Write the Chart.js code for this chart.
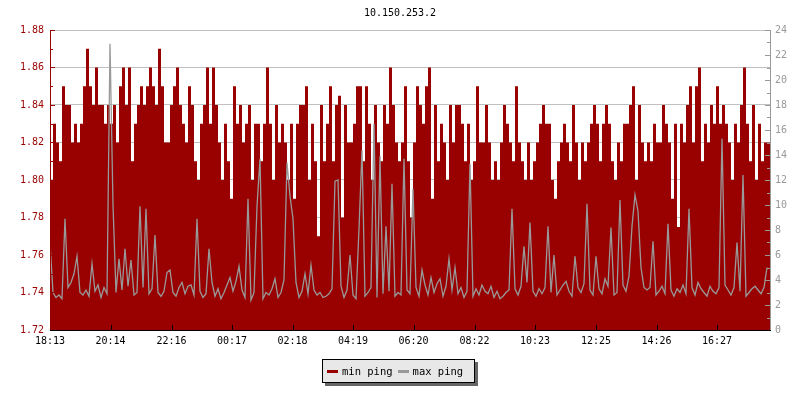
<!DOCTYPE html>
<html>
<head>
<meta charset="utf-8">
<script src="https://cdn.jsdelivr.net/npm/chart.js@4.4.0/dist/chart.umd.min.js"></script>
<style>
  body { margin: 0; background: #fff; }
  #wrap { position: relative; width: 800px; height: 400px; }
  #legend {
    position: absolute; left: 322px; top: 359px; width: 153px; height: 24px;
    background: #e8e8e8; border: 1px solid #000; box-shadow: 3px 3px 0 #666;
    font: 10.5px "DejaVu Sans Mono", monospace; color: #000;
    display: flex; align-items: center; box-sizing: border-box; padding-left: 4px;
  }
  #legend .sw { display: inline-block; width: 11px; height: 3px; margin-right: 4px; }
  #legend .it { display: flex; align-items: center; margin-right: 5px; white-space: nowrap; }
</style>
</head>
<body>
<div id="wrap">
  <canvas id="pingChart"></canvas>
  <div id="legend"></div>
</div>
<script>
// one sample every 6 minutes over 24h, starting 18:13
var STEP_MIN = 6;
var DAY_MIN = 1440;

var xTickLabels = ['18:13','20:14','22:16','00:17','02:18','04:19','06:20','08:22','10:23','12:25','14:26','16:27'];
var xTickMinutes = [0,121,243,364,485,606,727,849,970,1092,1213,1334];

// min ping (left axis)
var minPing = [
  1.82,1.80,1.83,1.82,1.81,1.85,1.84,1.84,1.82,1.83,1.82,1.83,1.85,1.87,1.85,1.84,1.86,1.84,1.84,1.83,
  1.84,1.83,1.84,1.82,1.85,1.86,1.84,1.86,1.81,1.83,1.84,1.85,1.84,1.85,1.86,1.85,1.84,1.87,1.85,1.82,
  1.82,1.84,1.85,1.86,1.84,1.83,1.82,1.85,1.84,1.81,1.80,1.83,1.84,1.86,1.83,1.86,1.84,1.82,1.80,1.83,
  1.81,1.79,1.85,1.83,1.84,1.82,1.83,1.84,1.80,1.83,1.83,1.81,1.83,1.86,1.83,1.80,1.84,1.82,1.83,1.82,
  1.80,1.83,1.79,1.83,1.84,1.84,1.85,1.80,1.83,1.81,1.77,1.84,1.81,1.83,1.85,1.81,1.84,1.845,1.78,1.84,
  1.82,1.82,1.83,1.85,1.85,1.81,1.85,1.83,1.80,1.84,1.82,1.81,1.84,1.83,1.86,1.84,1.82,1.81,1.82,1.85,
  1.81,1.78,1.82,1.85,1.84,1.83,1.85,1.86,1.79,1.84,1.81,1.83,1.82,1.80,1.84,1.82,1.84,1.84,1.83,1.81,
  1.83,1.80,1.81,1.85,1.82,1.82,1.84,1.82,1.80,1.81,1.80,1.82,1.84,1.83,1.82,1.81,1.85,1.82,1.81,1.80,
  1.82,1.80,1.81,1.82,1.83,1.84,1.83,1.83,1.80,1.79,1.81,1.82,1.83,1.82,1.81,1.84,1.82,1.80,1.82,1.81,
  1.82,1.83,1.84,1.83,1.81,1.83,1.84,1.83,1.81,1.80,1.82,1.81,1.83,1.83,1.84,1.85,1.80,1.84,1.82,1.81,
  1.82,1.81,1.83,1.82,1.82,1.84,1.83,1.82,1.79,1.83,1.775,1.83,1.82,1.84,1.85,1.82,1.85,1.86,1.81,1.83,
  1.82,1.84,1.83,1.85,1.83,1.84,1.83,1.82,1.80,1.83,1.82,1.84,1.86,1.83,1.81,1.84,1.80,1.83,1.81,1.82
];

// max ping (right axis)
var maxPing = [
  7.0,3.0,2.6,2.8,2.5,8.9,3.4,3.8,4.5,5.9,3.0,2.8,3.2,2.7,5.3,3.1,3.6,2.6,3.4,2.9,
  22.9,10.0,3.0,5.7,3.2,6.5,3.5,5.6,2.8,3.0,9.9,3.4,9.7,2.9,3.3,7.6,3.0,2.7,3.1,4.6,
  4.8,3.0,2.7,3.4,3.8,2.9,3.5,3.6,2.8,8.9,3.1,2.6,2.9,6.5,3.8,2.7,3.3,2.5,3.0,3.6,
  4.2,3.1,3.9,5.1,3.2,2.6,10.5,2.4,3.0,9.9,13.7,2.5,3.0,2.8,3.3,4.1,2.6,3.0,4.0,13.4,
  10.7,8.9,3.8,2.6,3.1,4.5,2.9,5.2,3.2,2.8,3.0,2.6,2.7,2.9,3.3,11.9,12.0,3.5,2.6,3.2,
  6.0,2.8,2.5,8.1,14.4,2.7,3.0,3.4,16.5,2.6,13.9,2.9,8.3,3.1,11.7,2.7,3.0,2.8,13.7,3.2,
  2.9,11.3,3.4,2.7,4.8,3.6,2.8,4.2,3.0,3.7,4.1,2.7,3.5,5.7,3.2,5.0,2.9,3.4,2.6,3.1,
  13.3,2.7,3.3,2.8,3.6,3.1,2.9,3.5,2.6,3.1,2.5,2.7,3.0,3.2,9.7,3.3,2.8,3.5,6.7,3.8,
  8.6,3.1,2.7,3.3,2.9,3.4,8.3,3.0,6.0,2.8,3.2,3.6,3.9,3.1,2.7,5.9,3.4,3.0,3.7,10.1,
  3.2,2.8,5.9,3.3,2.9,4.1,3.5,8.2,2.8,3.0,10.4,3.6,3.1,4.3,8.3,10.8,9.5,5.0,3.4,3.2,
  3.4,7.1,2.8,3.1,3.5,2.9,8.5,3.2,2.7,3.3,3.0,3.6,2.9,9.7,3.4,2.8,3.8,3.3,3.0,2.7,
  3.5,3.1,2.9,3.4,15.3,3.6,3.2,2.8,3.4,7.0,3.1,12.4,2.7,3.0,3.3,3.5,3.2,2.9,3.4,5.0
];

var FONT = '"DejaVu Sans Mono", monospace';
var RED = '#990000';
var GREY = '#999999';

function toPoints(arr, closeEnd) {
  var pts = arr.map(function (v, i) { return { x: i * STEP_MIN, y: v }; });
  if (closeEnd) pts.push({ x: DAY_MIN, y: arr[arr.length - 1] }); // close last step at the right edge
  return pts;
}

function isMajor(v) { return Math.round(v * 100) % 2 === 0; }

// tick marks pointing into the plot, plus axis lines on top of the fill
var innerTicks = {
  id: 'innerTicks',
  afterDatasetsDraw: function (chart) {
    var c = chart.ctx, a = chart.chartArea, s = chart.scales;
    function ln(x1, y1, x2, y2, col) {
      c.strokeStyle = col; c.beginPath(); c.moveTo(x1, y1); c.lineTo(x2, y2); c.stroke();
    }
    c.save();
    c.lineWidth = 1;
    s.y.ticks.forEach(function (t) {
      var y = Math.round(s.y.getPixelForValue(t.value)) + 0.5;
      ln(a.left, y, a.left + (isMajor(t.value) ? 5 : 3), y, RED);
    });
    s.y2.ticks.forEach(function (t) {
      var y = Math.round(s.y2.getPixelForValue(t.value)) + 0.5;
      ln(a.right, y, a.right - (t.value % 2 === 0 ? 5 : 3), y, GREY);
    });
    s.x.ticks.forEach(function (t) {
      var x = Math.round(s.x.getPixelForValue(t.value)) + 0.5;
      ln(x, a.bottom, x, a.bottom - 5, '#000');
    });
    ln(a.left + 0.5, a.top, a.left + 0.5, a.bottom, RED);
    ln(a.right + 0.5, a.top, a.right + 0.5, a.bottom, GREY);
    ln(a.left, a.bottom + 0.5, a.right + 1, a.bottom + 0.5, '#000');
    c.restore();
  }
};

var pingChart = new Chart(document.getElementById('pingChart').getContext('2d'), {
  type: 'line',
  data: {
    datasets: [{
      label: 'max ping',
      data: toPoints(maxPing, false),
      yAxisID: 'y2',
      borderColor: GREY,
      borderWidth: 1.3,
      tension: 0,
      pointRadius: 0,
      fill: false,
      order: 0
    }, {
      label: 'min ping',
      data: toPoints(minPing, true),
      yAxisID: 'y',
      borderColor: RED,
      backgroundColor: RED,
      borderWidth: 0,
      stepped: 'after',
      pointRadius: 0,
      fill: 'start',
      order: 1
    }]
  },
  options: {
    responsive: true,
    maintainAspectRatio: false,
    animation: false,
    layout: { padding: { top: 0, right: 0, bottom: 50, left: 0 } },
    plugins: {
      legend: { display: false },
      tooltip: { enabled: false },
      title: {
        display: true,
        text: '10.150.253.2',
        color: '#000',
        font: { family: FONT, size: 10, weight: 'normal', lineHeight: 1.2 },
        padding: { top: 7, bottom: 11 }
      }
    },
    scales: {
      x: {
        type: 'linear',
        min: 0,
        max: DAY_MIN,
        afterBuildTicks: function (sc) {
          sc.ticks = xTickMinutes.map(function (m) { return { value: m }; });
        },
        afterFit: function (sc) { sc.height = 20; },
        ticks: {
          autoSkip: false, maxRotation: 0, padding: 5, color: '#000',
          font: { family: FONT, size: 10 },
          callback: function (v, i) { return xTickLabels[i]; }
        },
        grid: { display: false, drawTicks: false },
        border: { display: false }
      },
      y: {
        position: 'left',
        min: 1.72,
        max: 1.88,
        afterBuildTicks: function (sc) {
          var t = [];
          for (var k = 172; k <= 188; k++) t.push({ value: k / 100 });
          sc.ticks = t;
        },
        afterFit: function (sc) { sc.width = 50; },
        ticks: {
          autoSkip: false, padding: 6, color: RED,
          font: { family: FONT, size: 10 },
          callback: function (v) { return isMajor(v) ? v.toFixed(2) : ''; }
        },
        grid: {
          drawTicks: false,
          color: function (ctx) {
            return ctx.tick && isMajor(ctx.tick.value) ? '#c0c0c0' : 'rgba(0,0,0,0)';
          }
        },
        border: { display: false }
      },
      y2: {
        position: 'right',
        min: 0,
        max: 24,
        afterBuildTicks: function (sc) {
          var t = [];
          for (var k = 0; k <= 24; k++) t.push({ value: k });
          sc.ticks = t;
        },
        afterFit: function (sc) { sc.width = 30; },
        ticks: {
          autoSkip: false, padding: 5, color: GREY,
          font: { family: FONT, size: 10 },
          callback: function (v) { return v % 2 === 0 ? String(v) : ''; }
        },
        grid: { display: false, drawTicks: false },
        border: { display: false }
      }
    }
  },
  plugins: [innerTicks]
});

// legend box below the plot, min first then max
var legendEl = document.getElementById('legend');
[pingChart.data.datasets[1], pingChart.data.datasets[0]].forEach(function (ds) {
  var it = document.createElement('span');
  it.className = 'it';
  var sw = document.createElement('span');
  sw.className = 'sw';
  sw.style.background = ds.borderColor;
  it.appendChild(sw);
  it.appendChild(document.createTextNode(ds.label));
  legendEl.appendChild(it);
});
</script>
</body>
</html>
